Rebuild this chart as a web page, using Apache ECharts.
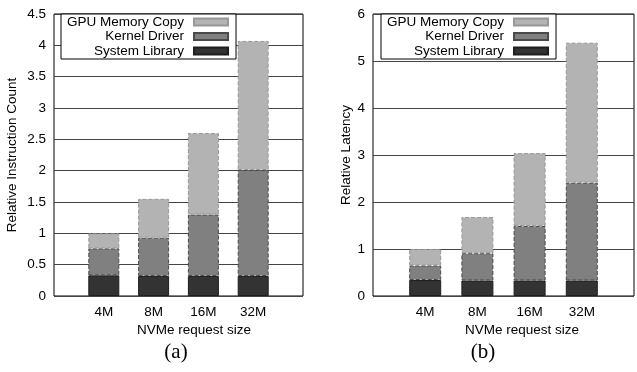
<!DOCTYPE html>
<html>
<head>
<meta charset="utf-8">
<script src="https://cdn.jsdelivr.net/npm/echarts@6/dist/echarts.min.js"></script>
<style>
  html, body { margin: 0; padding: 0; background: #fff; }
  #chart { width: 637px; height: 372px; }
</style>
</head>
<body>
<div id="chart"></div>
<script>
// NVMe request sizes on the x axis
const categories = ['4M', '8M', '16M', '32M'];
const legendNames = ['GPU Memory Copy', 'Kernel Driver', 'System Library'];

// (a) relative instruction count, per component (stacked)
const instrSystem = [0.33, 0.32, 0.32, 0.32];
const instrKernel = [0.43, 0.61, 0.98, 1.69];
const instrGpu    = [0.24, 0.62, 1.30, 2.06];

// (b) relative latency, per component (stacked)
const latSystem = [0.34, 0.33, 0.33, 0.33];
const latKernel = [0.31, 0.58, 1.16, 2.08];
const latGpu    = [0.35, 0.77, 1.55, 2.98];

// y axis tick setup
const instrTicks = { min: 0, max: 4.5, interval: 0.5 };
const latTicks   = { min: 0, max: 6, interval: 1 };

// one empty slot on each side so the bars sit away from the frame
const axisCats = [''].concat(categories, ['']);
const pad = arr => ['-'].concat(arr, ['-']);

const FONT = "'Liberation Sans', Arial, Helvetica, sans-serif";
const FS = 13.5;

const styles = {
  'System Library':  { color: '#333333', borderColor: '#1e1e1e', borderWidth: 1, borderType: 'solid' },
  'Kernel Driver':   { color: '#808080', borderColor: '#4a4a4a', borderWidth: 1, borderType: 'dashed' },
  'GPU Memory Copy': { color: '#b3b3b3', borderColor: '#989898', borderWidth: 1, borderType: 'dashed' }
};

function barSeries(name, data, idx, width) {
  return {
    type: 'bar', name: name, stack: 'p' + idx,
    xAxisIndex: idx, yAxisIndex: idx,
    barWidth: width,
    data: pad(data),
    itemStyle: styles[name]
  };
}

function yAxis(idx, ticks, title, gap) {
  return {
    type: 'value', gridIndex: idx,
    min: ticks.min, max: ticks.max, interval: ticks.interval,
    name: title, nameLocation: 'middle', nameGap: gap,
    nameTextStyle: { fontFamily: FONT, fontSize: FS, color: '#000' },
    axisLine: { show: false },
    axisTick: { show: false },
    axisLabel: { fontFamily: FONT, fontSize: FS, color: '#000', margin: 8 },
    splitLine: { show: true, lineStyle: { color: '#444', width: 1 } }
  };
}

function xAxis(idx) {
  return {
    type: 'category', gridIndex: idx, data: axisCats, boundaryGap: false,
    axisLine: { show: false },
    axisTick: { show: false },
    splitLine: { show: false },
    axisLabel: { fontFamily: FONT, fontSize: FS, color: '#000', margin: 9, interval: 0 }
  };
}

function legend(left) {
  return {
    orient: 'vertical', left: left, top: 14, align: 'right',
    icon: 'rect', itemWidth: 34, itemHeight: 7, itemGap: 0.5,
    padding: [1, 7, 1, 6],
    borderColor: '#000', borderWidth: 1, backgroundColor: '#fff',
    selectedMode: false,
    textStyle: { fontFamily: FONT, fontSize: FS, color: '#000', lineHeight: 13, padding: [0, 5, 0, 0] },
    data: legendNames
  };
}

function label(x, y, text, size, family) {
  return {
    type: 'text', x: x, y: y, silent: true,
    style: { text: text, fontFamily: family, fontSize: size, fill: '#000', align: 'center', verticalAlign: 'middle' }
  };
}

const chart = echarts.init(document.getElementById('chart'), null, { renderer: 'canvas' });
chart.setOption({
  animation: false,
  backgroundColor: '#fff',
  grid: [
    { left: 54, top: 14, width: 249, height: 282, show: true, borderColor: '#000', borderWidth: 1, backgroundColor: 'transparent' },
    { left: 373, top: 14, width: 266, height: 282, show: true, borderColor: '#000', borderWidth: 1, backgroundColor: 'transparent' }
  ],
  xAxis: [xAxis(0), xAxis(1)],
  yAxis: [yAxis(0, instrTicks, 'Relative Instruction Count', 35), yAxis(1, latTicks, 'Relative Latency', 17)],
  legend: [legend(61), legend(381)],
  series: [
    barSeries('System Library', instrSystem, 0, 31),
    barSeries('Kernel Driver', instrKernel, 0, 31),
    barSeries('GPU Memory Copy', instrGpu, 0, 31),
    barSeries('System Library', latSystem, 1, 32),
    barSeries('Kernel Driver', latKernel, 1, 32),
    barSeries('GPU Memory Copy', latGpu, 1, 32)
  ],
  graphic: [
    label(194, 330, 'NVMe request size', FS, FONT),
    label(522, 330, 'NVMe request size', FS, FONT),
    label(176, 352, '(a)', 21, "'Liberation Serif', 'Times New Roman', serif"),
    label(483, 352, '(b)', 21, "'Liberation Serif', 'Times New Roman', serif")
  ]
});
</script>
</body>
</html>
